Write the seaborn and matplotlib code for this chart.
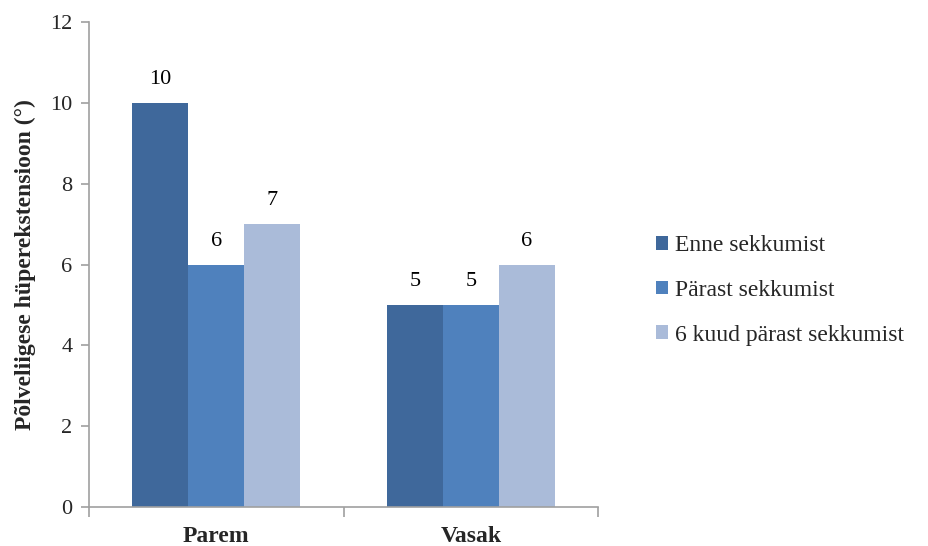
import pandas as pd
import matplotlib.pyplot as plt
import seaborn as sns
from matplotlib.ticker import FixedLocator

# Andmed
categories = ['Parem', 'Vasak']
series = ['Enne sekkumist', 'Pärast sekkumist', '6 kuud pärast sekkumist']
enne = [10, 5]
parast = [6, 5]
kuud6 = [7, 6]
colors = ['#3F689B', '#4F81BD', '#AABBD9']

rows = []
for name, vals in zip(series, [enne, parast, kuud6]):
    for cat, v in zip(categories, vals):
        rows.append({'Pool': cat, 'Seeria': name, 'Väärtus': v})
df = pd.DataFrame(rows)

sns.set_theme(style="white")
plt.rcParams['font.family'] = ['Liberation Serif', 'DejaVu Serif']

fig = plt.figure(figsize=(9.29, 5.46), dpi=100)
ax = fig.add_axes([0.0958, 0.0714, 0.548, 0.8883])

sns.barplot(data=df, x='Pool', y='Väärtus', hue='Seeria', hue_order=series,
            palette=colors, width=0.66, saturation=1, linewidth=0, ax=ax)

for cont in ax.containers:
    ax.bar_label(cont, fmt='%d', padding=10, fontsize=16, color='black')

ax.set_xlim(-0.5, 1.5)
ax.set_ylim(0, 12)
ax.set_yticks(range(0, 13, 2))
ax.tick_params(axis='y', labelsize=16, length=6, width=1.2, color='#a0a0a0',
               left=True, direction='out', pad=6)
ax.set_xticks([0, 1])
ax.set_xticklabels(categories, fontsize=17, fontweight='bold')
ax.xaxis.set_minor_locator(FixedLocator([-0.5, 0.5, 1.5]))
ax.tick_params(axis='x', which='major', length=0, pad=14)
ax.tick_params(axis='x', which='minor', length=7, width=1.2, color='#a0a0a0',
               bottom=True, direction='out')

ax.set_xlabel('')
ax.set_ylabel('Põlveliigese hüperekstensioon (°)', fontsize=17,
              fontweight='bold', labelpad=10)

for side in ['top', 'right']:
    ax.spines[side].set_visible(False)
for side in ['left', 'bottom']:
    ax.spines[side].set_color('#a0a0a0')
    ax.spines[side].set_linewidth(1.2)

ax.legend(loc='center left', bbox_to_anchor=(0.706, 0.468),
          bbox_transform=fig.transFigure, frameon=False, borderpad=0,
          borderaxespad=0, fontsize=17, handlelength=0.5, handleheight=0.5,
          handletextpad=0.3, labelspacing=1.0)

fig.savefig('out.png', dpi=100)
